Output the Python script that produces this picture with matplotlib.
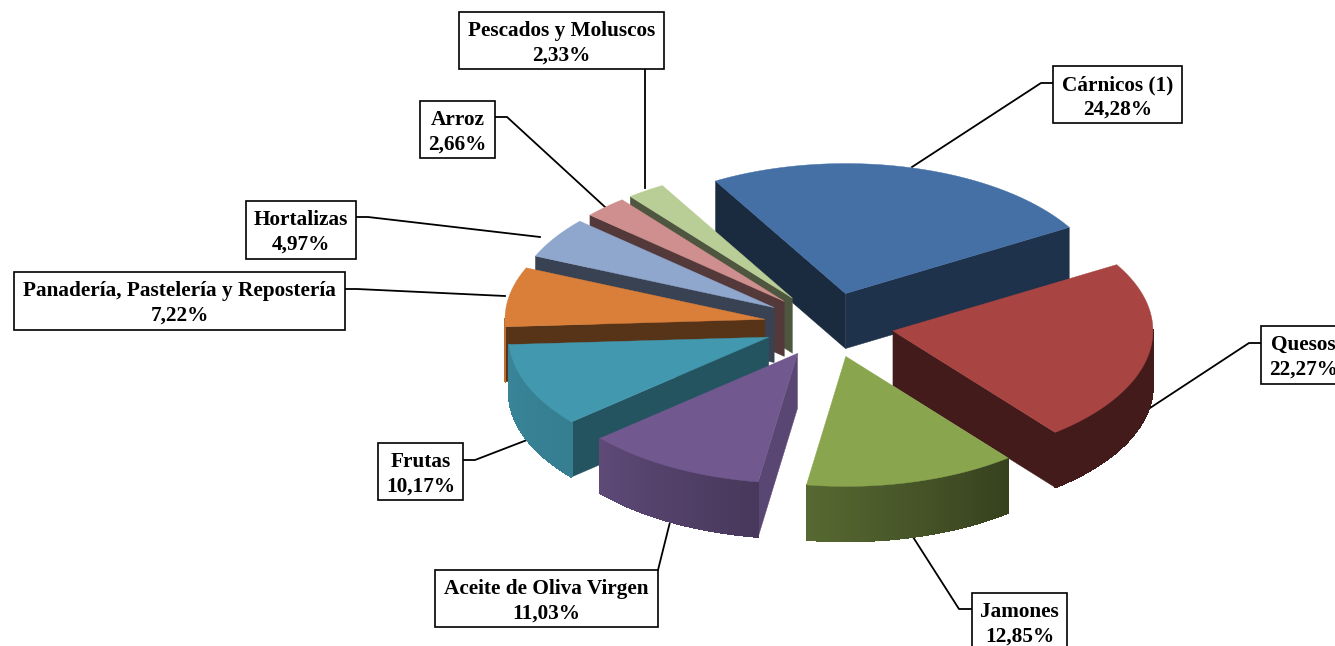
import numpy as np
import matplotlib
matplotlib.use('Agg')
import matplotlib.pyplot as plt
from matplotlib.collections import PolyCollection
from matplotlib.patches import Polygon, Rectangle

# clockwise from the first slice, as labelled in the chart
names = ['Cárnicos (1)', 'Quesos', 'Jamones', 'Aceite de Oliva Virgen', 'Frutas',
         'Panadería, Pastelería y Repostería', 'Hortalizas', 'Arroz', 'Pescados y Moluscos']
values = [24.28, 22.27, 12.85, 11.03, 10.17, 7.22, 4.97, 2.66, 2.33]
value_labels = ['24,28%', '22,27%', '12,85%', '11,03%', '10,17%', '7,22%', '4,97%', '2,66%', '2,33%']
colors = ['#4570A6', '#A84442', '#89A54E', '#71588F', '#4198AF',
          '#D97F3A', '#8FA6CD', '#CF8F8E', '#B9CD96']

# shade of the two flat cut faces, 0 means not visible
start_shade = [0.38, 0, 0, 0.80, 0.55, 0.40, 0.40, 0.40, 0.42]
end_shade = [0.45, 0.40, 0, 0, 0, 0, 0, 0, 0]
draw_order = [0, 8, 7, 6, 5, 4, 3, 1, 2]

# pie geometry in pixels
cx, cy = 829, 325
rx, ry = 260, 130
depth = 55
explode = 0.25
first_angle = -30

# label boxes: x0, x1, y0, y1
boxes = [(1053, 1182, 66, 123), (1261, 1346, 326, 384), (972, 1067, 593, 651),
         (435, 658, 570, 627), (378, 463, 443, 500), (14, 345, 272, 330),
         (246, 356, 201, 259), (420, 495, 101, 158), (459, 664, 12, 69)]
leaders = [[(1053, 83), (1041, 83), (912, 167)],
           [(1261, 343), (1249, 343), (1150, 408)],
           [(972, 609), (959, 609), (913, 537)],
           [(658, 570), (670, 522)],
           [(463, 460), (475, 460), (527, 440)],
           [(345, 289), (357, 289), (505, 296)],
           [(356, 217), (368, 217), (540, 237)],
           [(495, 117), (507, 117), (605, 207)],
           [(645, 69), (645, 188)]]


def shade(col, f):
    return tuple(c * f for c in matplotlib.colors.to_rgb(col))


def side_shade(a):
    return np.interp(a, [90, 141, 188, 229, 267], [0.40, 0.39, 0.63, 0.83, 0.87])


fig = plt.figure(figsize=(13.35, 6.46), dpi=100)
ax = fig.add_axes([0, 0, 1, 1])
ax.set_xlim(0, 1335)
ax.set_ylim(646, 0)
ax.axis('off')

for pts in leaders:
    ax.plot([p[0] for p in pts], [p[1] for p in pts], color='black', lw=1.3, zorder=1)

fracs = np.array(values) / np.sum(values) * 360
ends = first_angle + np.cumsum(fracs)
starts = ends - fracs

z = 2
for i in draw_order:
    a0, a1 = starts[i], ends[i]
    mid = np.radians((a0 + a1) / 2)
    ox = cx + explode * rx * np.sin(mid)
    oy = cy - explode * ry * np.cos(mid)
    ang = np.linspace(a0, a1, 80)
    xs = ox + rx * np.sin(np.radians(ang))
    ys = oy - ry * np.cos(np.radians(ang))

    # cut faces
    for s, k in ((start_shade[i], 0), (end_shade[i], -1)):
        if s > 0:
            face = [(ox, oy), (xs[k], ys[k]), (xs[k], ys[k] + depth), (ox, oy + depth)]
            ax.add_patch(Polygon(face, fc=shade(colors[i], s), ec=shade(colors[i], s), lw=0.3, zorder=z))
    # outer rim, front part only
    strips = []
    strip_cols = []
    for j in range(len(ang) - 1):
        am = (ang[j] + ang[j + 1]) / 2
        if 90 <= am <= 270:
            strips.append([(xs[j], ys[j]), (xs[j + 1], ys[j + 1]),
                           (xs[j + 1], ys[j + 1] + depth), (xs[j], ys[j] + depth)])
            strip_cols.append(shade(colors[i], side_shade(am)))
    if strips:
        ax.add_collection(PolyCollection(strips, facecolors=strip_cols, edgecolors=strip_cols,
                                         linewidths=0.6, antialiaseds=False, zorder=z))
    top = [(ox, oy)] + list(zip(xs, ys))
    ax.add_patch(Polygon(top, fc=colors[i], ec=colors[i], lw=0.3, zorder=z + 0.5))
    z += 1

for i in range(len(names)):
    x0, x1, y0, y1 = boxes[i]
    ax.add_patch(Rectangle((x0, y0), x1 - x0, y1 - y0, fc='white', ec='black', lw=1.2, zorder=20))
    ax.text((x0 + x1) / 2, y0 + 24, names[i], ha='center', va='baseline', fontsize=15.3,
            family='Liberation Serif', weight='bold', zorder=21)
    ax.text((x0 + x1) / 2, y0 + 49, value_labels[i], ha='center', va='baseline', fontsize=15.3,
            family='Liberation Serif', weight='bold', zorder=21)

fig.savefig('out.png', dpi=100)
